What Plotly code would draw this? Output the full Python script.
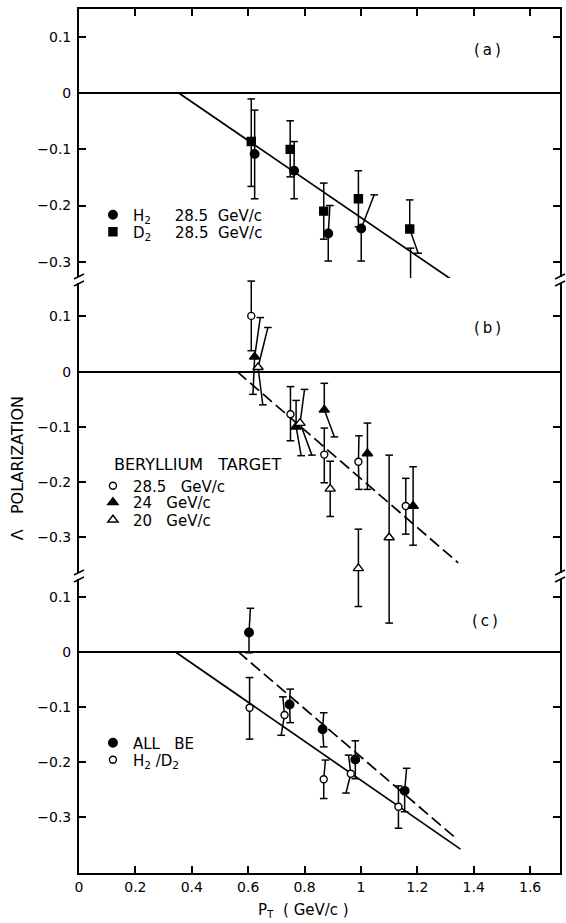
import plotly.graph_objects as go

# ---------------- data ----------------
# Panel (a): hydrogen / deuterium targets, 28.5 GeV/c
a_h2_x = [0.623, 0.763, 0.884, 1.001, 1.176]
a_h2_y = [-0.108, -0.138, -0.250, -0.241, -0.339]
a_h2_hi = [-0.030, -0.086, -0.200, -0.181, -0.276]
a_h2_lo = [-0.188, -0.188, -0.299, -0.299, -0.397]
a_h2_xhi = [0.623, 0.763, 0.890, 1.047, 1.176]
a_h2_xlo = [0.623, 0.763, 0.884, 1.001, 1.176]

a_d2_x = [0.611, 0.749, 0.868, 0.991, 1.173]
a_d2_y = [-0.086, -0.100, -0.210, -0.188, -0.242]
a_d2_hi = [-0.010, -0.049, -0.160, -0.138, -0.190]
a_d2_lo = [-0.166, -0.149, -0.260, -0.238, -0.285]
a_d2_xhi = [0.611, 0.749, 0.868, 0.991, 1.173]
a_d2_xlo = [0.611, 0.749, 0.868, 0.991, 1.203]

a_fit_x = [0.355, 1.368]
a_fit_y = [0.0, -0.348]

# Panel (b): beryllium target
b_285_x = [0.611, 0.750, 0.870, 0.991, 1.159]
b_285_y = [0.101, -0.077, -0.150, -0.163, -0.243]
b_285_hi = [0.164, -0.027, -0.102, -0.116, -0.193]
b_285_lo = [0.038, -0.125, -0.201, -0.213, -0.294]
b_285_xhi = [0.611, 0.750, 0.870, 0.993, 1.159]
b_285_xlo = [0.611, 0.750, 0.870, 0.993, 1.159]

b_24_x = [0.623, 0.770, 0.870, 1.023, 1.185]
b_24_y = [0.027, -0.0995, -0.069, -0.148, -0.243]
b_24_hi = [0.098, -0.052, -0.021, -0.093, -0.172]
b_24_lo = [-0.041, -0.152, -0.118, -0.213, -0.314]
b_24_xhi = [0.643, 0.770, 0.870, 1.023, 1.185]
b_24_xlo = [0.617, 0.788, 0.906, 1.023, 1.185]

b_20_x = [0.635, 0.784, 0.891, 0.991, 1.100]
b_20_y = [0.008, -0.093, -0.212, -0.356, -0.300]
b_20_hi = [0.080, -0.032, -0.162, -0.285, -0.151]
b_20_lo = [-0.060, -0.151, -0.262, -0.425, -0.455]
b_20_xhi = [0.670, 0.800, 0.891, 0.991, 1.100]
b_20_xlo = [0.652, 0.826, 0.891, 0.991, 1.100]

b_fit_x = [0.561, 1.345]
b_fit_y = [0.0, -0.346]

# Panel (c): combined
c_be_x = [0.603, 0.747, 0.864, 0.980, 1.155]
c_be_y = [0.035, -0.096, -0.141, -0.196, -0.253]
c_be_hi = [0.079, -0.068, -0.111, -0.162, -0.212]
c_be_lo = [-0.002, -0.129, -0.173, -0.231, -0.291]
c_be_xhi = [0.608, 0.749, 0.868, 0.980, 1.162]
c_be_xlo = [0.603, 0.749, 0.868, 0.980, 1.155]

c_hd_x = [0.605, 0.729, 0.868, 0.964, 1.133]
c_hd_y = [-0.102, -0.115, -0.232, -0.222, -0.282]
c_hd_hi = [-0.047, -0.082, -0.197, -0.188, -0.244]
c_hd_lo = [-0.159, -0.152, -0.267, -0.257, -0.321]
c_hd_xhi = [0.605, 0.723, 0.874, 0.956, 1.133]
c_hd_xlo = [0.605, 0.717, 0.868, 0.947, 1.133]

c_fit_solid_x = [0.341, 1.353]
c_fit_solid_y = [0.0, -0.359]
c_fit_dash_x = [0.564, 1.341]
c_fit_dash_y = [0.0, -0.341]

x_tickvals = [0, 0.2, 0.4, 0.6, 0.8, 1.0, 1.2, 1.4, 1.6]
x_ticktext = ["0", "0.2", "0.4", "0.6", "0.8", "1", "1.2", "1.4", "1.6"]
y_tickvals = [-0.3, -0.2, -0.1, 0, 0.1]
y_ticktext = ["\u22120.3", "\u22120.2", "\u22120.1", "0", "0.1"]

FONT = "DejaVu Sans"
CAP = 0.0135
NB = "\u00a0"

# the page body margin is reset to 0 (post_script), so figure px == screen px
W, H = 566, 923
ML, MR, MT, MB = 79, 4, 9, 50
PH = H - MT - MB
PW = W - ML - MR
OX, OY = ML, MT


def px_x(px):
    return (px - OX) / PW


def px_y(py):
    return 1 - (py - OY) / PH


fig = go.Figure()


def whiskers(x, y, hi, lo, xhi, xlo, xa, ya):
    xs, ys = [], []
    for xi, yi, h, l, xh, xl in zip(x, y, hi, lo, xhi, xlo):
        xs += [xi, xh, None, xh - CAP, xh + CAP, None,
               xi, xl, None, xl - CAP, xl + CAP, None]
        ys += [yi, h, None, h, h, None, yi, l, None, l, l, None]
    fig.add_trace(go.Scatter(x=xs, y=ys, mode="lines", xaxis=xa, yaxis=ya,
                             line=dict(color="black", width=1.5),
                             showlegend=False, hoverinfo="skip"))


def points(x, y, name, symbol, fill, size, xa, ya, legend):
    fig.add_trace(go.Scatter(x=x, y=y, mode="markers", name=name, xaxis=xa, yaxis=ya,
                             legend=legend,
                             marker=dict(symbol=symbol, size=size, color=fill,
                                         line=dict(color="black", width=1.4))))


def fitline(x, y, dash, xa, ya):
    fig.add_trace(go.Scatter(x=x, y=y, mode="lines", xaxis=xa, yaxis=ya,
                             line=dict(color="black", width=1.7, dash=dash),
                             showlegend=False, hoverinfo="skip"))


# panel a
fitline(a_fit_x, a_fit_y, "solid", "x", "y")
whiskers(a_h2_x, a_h2_y, a_h2_hi, a_h2_lo, a_h2_xhi, a_h2_xlo, "x", "y")
whiskers(a_d2_x, a_d2_y, a_d2_hi, a_d2_lo, a_d2_xhi, a_d2_xlo, "x", "y")
points(a_h2_x, a_h2_y, "H<sub>2</sub>" + NB * 5 + "28.5" + NB * 2 + "GeV/c", "circle", "black", 8.5, "x", "y", "legend")
points(a_d2_x, a_d2_y, "D<sub>2</sub>" + NB * 5 + "28.5" + NB * 2 + "GeV/c", "square", "black", 8, "x", "y", "legend2")

# panel b
fitline(b_fit_x, b_fit_y, "12px,5px", "x2", "y2")
whiskers(b_285_x, b_285_y, b_285_hi, b_285_lo, b_285_xhi, b_285_xlo, "x2", "y2")
whiskers(b_24_x, b_24_y, b_24_hi, b_24_lo, b_24_xhi, b_24_xlo, "x2", "y2")
whiskers(b_20_x, b_20_y, b_20_hi, b_20_lo, b_20_xhi, b_20_xlo, "x2", "y2")
points(b_285_x, b_285_y, "28.5" + NB * 3 + "GeV/c", "circle", "white", 7, "x2", "y2", "legend3")
points(b_24_x, b_24_y, "24" + NB * 3 + "GeV/c", "triangle-up", "black", 9, "x2", "y2", "legend4")
points(b_20_x, b_20_y, "20" + NB * 3 + "GeV/c", "triangle-up", "white", 9, "x2", "y2", "legend5")

# panel c
fitline(c_fit_solid_x, c_fit_solid_y, "solid", "x3", "y3")
fitline(c_fit_dash_x, c_fit_dash_y, "12px,5px", "x3", "y3")
whiskers(c_be_x, c_be_y, c_be_hi, c_be_lo, c_be_xhi, c_be_xlo, "x3", "y3")
whiskers(c_hd_x, c_hd_y, c_hd_hi, c_hd_lo, c_hd_xhi, c_hd_xlo, "x3", "y3")
points(c_be_x, c_be_y, "ALL" + NB * 3 + "BE", "circle", "black", 8.5, "x3", "y3", "legend6")
points(c_hd_x, c_hd_y, "H<sub>2</sub>" + NB + "/D<sub>2</sub>", "circle", "white", 7, "x3", "y3", "legend7")

axfont = dict(family=FONT, size=14, color="black")
common_x = dict(range=[0, 1.706], showgrid=False, zeroline=False, fixedrange=True)
common_y = dict(showgrid=False, zeroline=True, zerolinecolor="black", zerolinewidth=1.7,
                showline=True, linecolor="black", linewidth=1.9, mirror="ticks",
                ticks="inside", ticklen=7, tickwidth=1.7, tickcolor="black",
                tickvals=y_tickvals, ticktext=y_ticktext, tickfont=axfont,
                ticklabelstandoff=3, fixedrange=True)


def legend_at(row_py):
    return dict(font=dict(family=FONT, size=15, color="black"),
                bgcolor="rgba(0,0,0,0)", borderwidth=0,
                xanchor="left", yanchor="middle", itemclick=False,
                x=px_x(93), y=px_y(row_py))


# y-axis domains in screen pixels (panels overlap slightly so error bars are not clipped)
dom_a = [px_y(325), px_y(9)]
dom_b = [px_y(630), px_y(278)]
dom_c = [px_y(873), px_y(575)]

fig.update_layout(
    width=W, height=H,
    margin=dict(l=ML, r=MR, t=MT, b=MB),
    paper_bgcolor="white", plot_bgcolor="white",
    font=dict(family=FONT, size=14, color="black"),
    hovermode=False,
    xaxis=dict(**common_x, anchor="y", side="top", showline=True, linecolor="black",
               linewidth=1.9, ticks="inside", ticklen=7, tickwidth=1.7, tickcolor="black",
               tickvals=x_tickvals[1:], showticklabels=False),
    xaxis2=dict(**common_x, anchor="y2", visible=False),
    xaxis3=dict(**common_x, anchor="y3", showline=True, linecolor="black", linewidth=1.9,
                ticks="inside", ticklen=7, tickwidth=1.7, tickcolor="black",
                tickvals=x_tickvals, ticktext=x_ticktext, tickfont=axfont),
    yaxis=dict(**common_y, domain=dom_a, range=[-0.413, 0.1503], anchor="x"),
    yaxis2=dict(**common_y, domain=dom_b, range=[-0.4675, 0.1696], anchor="x2"),
    yaxis3=dict(**common_y, domain=dom_c, range=[-0.4024, 0.1395], anchor="x3"),
    legend=legend_at(215),
    legend2=legend_at(232),
    legend3=legend_at(486),
    legend4=legend_at(502.5),
    legend5=legend_at(520),
    legend6=legend_at(743),
    legend7=legend_at(760),
)

ann_font = dict(family=FONT, size=15, color="black")
for txt, xx, yy, xr, yr in [("(\u2009a\u2009)", 1.450, 0.077, "x", "y"),
                            ("(\u2009b\u2009)", 1.450, 0.080, "x2", "y2"),
                            ("(\u2009c\u2009)", 1.441, 0.056, "x3", "y3")]:
    fig.add_annotation(text=txt, x=xx, y=yy, xref=xr, yref=yr, xanchor="center",
                       yanchor="middle", showarrow=False, font=ann_font)
fig.add_annotation(text="BERYLLIUM" + NB * 3 + "TARGET", x=px_x(112), y=px_y(464),
                   xref="paper", yref="paper", xanchor="left", yanchor="middle",
                   showarrow=False, font=dict(family=FONT, size=16, color="black"))
fig.add_annotation(text="\u039b" + NB * 3 + "POLARIZATION", textangle=-90,
                   x=px_x(17), y=px_y(468), xref="paper", yref="paper",
                   xanchor="center", yanchor="middle",
                   showarrow=False, font=dict(family=FONT, size=16, color="black"))
fig.add_annotation(text="P<sub>T</sub>" + NB * 2 + "(" + NB + "GeV/c" + NB + ")",
                   x=px_x(304), y=px_y(910), xref="paper", yref="paper",
                   xanchor="center", yanchor="middle",
                   showarrow=False, font=ann_font)

# axis-break marks on left and right frame lines
for yb in [px_y(280), px_y(576)]:
    for xb in [0, 1]:
        fig.add_shape(type="rect", xref="paper", yref="paper", xsizemode="pixel",
                      ysizemode="pixel", xanchor=xb, yanchor=yb, x0=-3, x1=3, y0=-3, y1=3,
                      fillcolor="white", line=dict(width=0), layer="above")
        for off in [-3.5, 3.5]:
            fig.add_shape(type="line", xref="paper", yref="paper", xsizemode="pixel",
                          ysizemode="pixel", xanchor=xb, yanchor=yb,
                          x0=-5, x1=5, y0=off - 2.5, y1=off + 2.5,
                          line=dict(color="black", width=1.5), layer="above")

fig.write_html("out.html", config={"displayModeBar": False},
               post_script="document.body.style.margin='0px';")
